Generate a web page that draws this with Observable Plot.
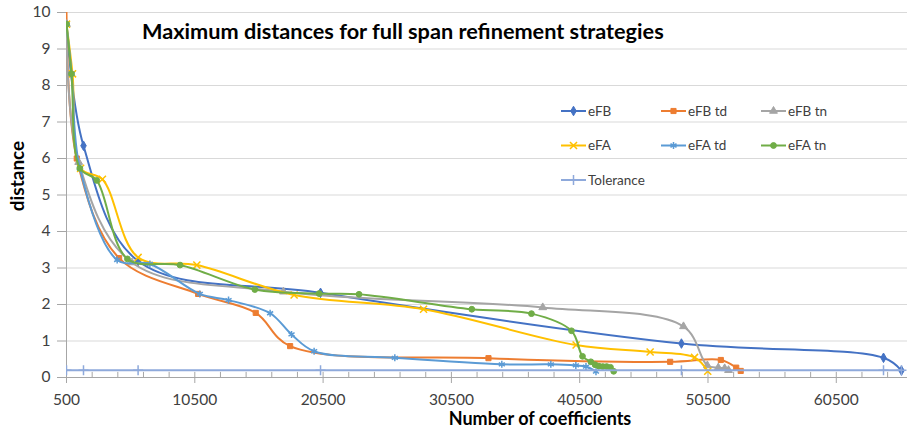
<!DOCTYPE html>
<html>
<head>
<meta charset="utf-8">
<script src="https://cdn.jsdelivr.net/npm/d3@7"></script>
<script src="https://cdn.jsdelivr.net/npm/@observablehq/plot@0.6"></script>
<style>
  html, body { margin: 0; padding: 0; background: #fff; }
  #wrap { position: relative; width: 910px; height: 431px; font-family: Lato, "Open Sans", sans-serif; }
  .ov { position: absolute; white-space: nowrap; }
</style>
</head>
<body>
<div id="wrap"></div>
<script>
// ---- Data ----
const seriesNames = ["eFB", "eFB td", "eFB tn", "eFA", "eFA td", "eFA tn", "Tolerance"];
const seriesColors = ["#4472C4", "#ED7D31", "#A5A5A5", "#FFC000", "#5B9BD5", "#70AD47", "#8EA9DB"];
const seriesSymbols = ["diamond", "square", "triangle", "times", "asterisk", "circle", "plus"];

const eFB_x = [500, 1825, 6080, 20300, 48430, 64180, 65580];
const eFB_y = [9.68, 6.35, 3.19, 2.32, 0.93, 0.54, 0.19];

const eFBtd_x = [500, 1300, 4600, 10760, 15250, 17930, 33390, 47550, 51500, 52700, 53050];
const eFBtd_y = [10.4, 6.0, 3.27, 2.29, 1.77, 0.86, 0.53, 0.43, 0.48, 0.27, 0.18];

const eFBtn_x = [500, 1450, 5600, 17410, 37620, 48590, 50450, 51300, 51800, 52100];
const eFBtn_y = [9.68, 5.9, 3.15, 2.35, 1.92, 1.40, 0.33, 0.27, 0.25, 0.20];

const eFA_x = [500, 970, 1600, 3300, 6080, 10660, 18240, 28330, 40220, 45990, 49450, 50480];
const eFA_y = [9.68, 8.32, 5.73, 5.43, 3.29, 3.08, 2.26, 1.87, 0.89, 0.70, 0.55, 0.17];

const eFAtd_x = [500, 900, 1540, 4450, 7000, 10890, 13130, 16370, 18040, 19800, 26090, 34430, 38250, 40200, 40990, 41770];
const eFAtd_y = [9.68, 8.32, 5.73, 3.22, 3.11, 2.29, 2.12, 1.76, 1.18, 0.72, 0.54, 0.36, 0.36, 0.33, 0.30, 0.16];

const eFAtn_x = [500, 890, 1540, 2860, 5250, 9350, 15180, 20190, 23300, 32090, 36740, 39860, 40720, 41370, 41700, 42000, 42300, 42600, 42900, 43150];
const eFAtn_y = [9.68, 8.32, 5.73, 5.40, 3.25, 3.08, 2.41, 2.30, 2.28, 1.87, 1.75, 1.28, 0.58, 0.43, 0.35, 0.31, 0.30, 0.30, 0.28, 0.17];

const tol_x = [500, 1825, 6080, 20300, 48430, 64180, 65580];
const tol_y = [0.2, 0.2, 0.2, 0.2, 0.2, 0.2, 0.2];

const xTickLabels = [500, 10500, 20500, 30500, 40500, 50500, 60500];
const xMinorTicks = d3.range(500, 66001, 2000);
const yTickLabels = [0, 1, 2, 3, 4, 5, 6, 7, 8, 9, 10];

const titleText = "Maximum distances for full span refinement strategies";
const xTitle = "Number of coefficients";
const yTitle = "distance";

// ---- Build table ----
const xs = [eFB_x, eFBtd_x, eFBtn_x, eFA_x, eFAtd_x, eFAtn_x, tol_x];
const ys = [eFB_y, eFBtd_y, eFBtn_y, eFA_y, eFAtd_y, eFAtn_y, tol_y];
const series = seriesNames.map((name, i) => ({
  name, color: seriesColors[i], symbol: seriesSymbols[i],
  data: xs[i].map((x, j) => ({x, y: ys[i][j]}))
}));
const strokeSymbols = new Set(["times", "asterisk", "plus"]);

const marks = [
  Plot.gridY(yTickLabels, {stroke: "#d9d9d9", strokeOpacity: 1}),
  Plot.ruleX([500], {stroke: "#a6a6a6"}),
  Plot.axisY(yTickLabels, {tickSize: 9, tickPadding: 7, stroke: "#a6a6a6", fill: "#404040", label: null}),
  Plot.ruleX(xMinorTicks, {y1: 0, y2: 0.14, stroke: "#a6a6a6"}),
  Plot.ruleY([0], {stroke: "#a6a6a6"}),
  Plot.axisX(xTickLabels, {tickSize: 6, tickPadding: 10, stroke: "#a6a6a6", fill: "#404040", label: null, tickFormat: d => String(d)})
];
for (const s of series) {
  marks.push(Plot.line(s.data, {x: "x", y: "y", stroke: s.color, strokeWidth: 2, curve: "catmull-rom", clip: true}));
  if (strokeSymbols.has(s.symbol)) {
    marks.push(Plot.dot(s.data, {x: "x", y: "y", symbol: () => s.symbol, stroke: s.color, strokeWidth: 1.5, fill: "none", r: 3.3, clip: true}));
  } else {
    marks.push(Plot.dot(s.data, {x: "x", y: "y", symbol: () => s.symbol, fill: s.color, stroke: s.color, strokeWidth: 1, r: 2.9, clip: true}));
  }
}

const chart = Plot.plot({
  width: 910, height: 431,
  marginLeft: 66, marginRight: 3, marginTop: 12, marginBottom: 54,
  style: {fontFamily: "Lato, 'Open Sans', sans-serif", fontSize: "15.5px", background: "white", overflow: "visible"},
  x: {domain: [500, 66050]},
  y: {domain: [0, 10]},
  symbol: {type: "identity"},
  marks
});
const wrap = document.getElementById("wrap");
wrap.appendChild(chart);

// ---- Overlays: title, axis titles, legend ----
function addText(txt, css) {
  const d = document.createElement("div");
  d.className = "ov";
  d.textContent = txt;
  Object.assign(d.style, css);
  wrap.appendChild(d);
  return d;
}
addText(titleText, {left: "142px", top: "18px", fontSize: "21.7px", fontWeight: "bold", color: "#000", lineHeight: "26px"});
addText(xTitle, {left: "540px", top: "409px", transform: "translateX(-50%)", fontSize: "18px", fontWeight: "bold", color: "#000", lineHeight: "18px"});
addText(yTitle, {left: "17px", top: "176px", transform: "translate(-50%,-50%) rotate(-90deg)", fontSize: "19px", fontWeight: "bold", color: "#000", lineHeight: "22px"});

const leg = d3.select(wrap).append("svg")
  .attr("width", 910).attr("height", 431)
  .style("position", "absolute").style("left", "0px").style("top", "0px")
  .style("pointer-events", "none");
const symMap = {diamond: d3.symbolDiamond, square: d3.symbolSquare, triangle: d3.symbolTriangle,
  times: d3.symbolTimes, asterisk: d3.symbolAsterisk, circle: d3.symbolCircle, plus: d3.symbolPlus};
const colX = [561, 661, 761];
const rowY = [111, 145.5, 180];
series.forEach((s, i) => {
  const cx = colX[i % 3], cy = rowY[Math.floor(i / 3)];
  const g = leg.append("g").attr("transform", `translate(${cx},${cy})`);
  g.append("line").attr("x1", 0).attr("x2", 25).attr("y1", 0).attr("y2", 0)
    .attr("stroke", s.color).attr("stroke-width", 2);
  const stroked = strokeSymbols.has(s.symbol);
  const r = stroked ? 3.3 : 2.9;
  g.append("path").attr("transform", "translate(12.5,0)")
    .attr("d", d3.symbol(symMap[s.symbol], Math.PI * r * r)())
    .attr("fill", stroked ? "none" : s.color).attr("stroke", s.color)
    .attr("stroke-width", stroked ? 1.5 : 1);
  g.append("text").attr("x", 27).attr("y", 0).attr("dy", "0.35em")
    .attr("font-family", "Lato, 'Open Sans', sans-serif").attr("font-size", "13.5px")
    .attr("fill", "#404040").text(s.name);
});
</script>
</body>
</html>
